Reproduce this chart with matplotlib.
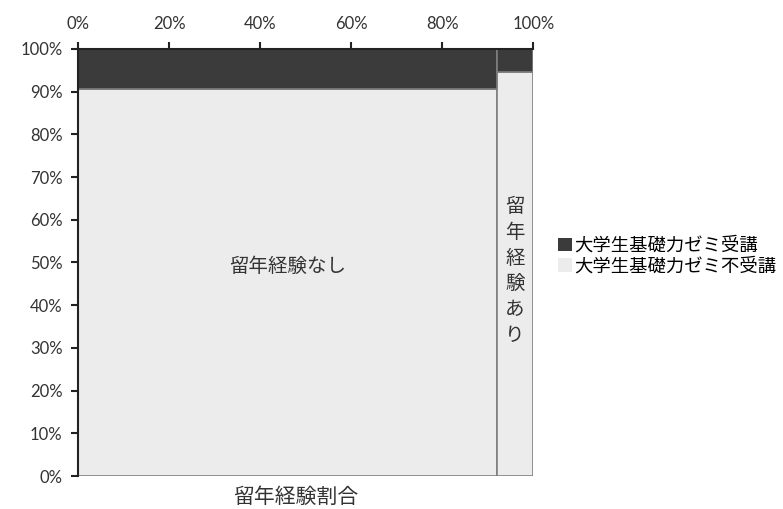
import numpy as np
import matplotlib
matplotlib.use("Agg")
from matplotlib import pyplot as plt
from matplotlib.patches import Patch

plt.rcParams['font.family'] = ['Noto Sans CJK JP', 'DejaVu Sans']

# column groups (width = share of students)
groups = ['留年経験なし', '留年経験あり']
widths = [0.92, 0.08]
# within-column shares
attend = [0.094, 0.054]        # 大学生基礎力ゼミ受講
not_attend = [0.906, 0.946]    # 大学生基礎力ゼミ不受講
series_names = ['大学生基礎力ゼミ受講', '大学生基礎力ゼミ不受講']
ticks = np.arange(0, 1.01, 0.1)
xticks = np.arange(0, 1.01, 0.2)

dark = '#3b3b3b'
light = '#ececec'
edge = '#7f7f7f'
txt = '#333333'

fig = plt.figure(figsize=(7.83, 5.09), dpi=100)
ax = fig.add_axes([0.0996, 0.0648, 0.5815, 0.839])

lefts = np.concatenate([[0], np.cumsum(widths)[:-1]])
ax.bar(lefts, not_attend, width=widths, align='edge', color=light,
       edgecolor=edge, linewidth=1.2)
ax.bar(lefts, attend, width=widths, bottom=not_attend, align='edge',
       color=dark, edgecolor=edge, linewidth=1.2)

# group labels
ax.text(lefts[0] + widths[0] / 2, 0.49, groups[0], ha='center', va='center',
        fontsize=14, color=txt)
ax.text(lefts[1] + widths[1] / 2, 0.48, '\n'.join(groups[1]), ha='center',
        va='center', fontsize=14, color=txt, linespacing=1.3)

ax.set_xlim(0, 1)
ax.set_ylim(0, 1)
ax.set_yticks(ticks)
ax.set_yticklabels([f'{int(round(t * 100))}%' for t in ticks],
                   fontsize=12, color=txt, family='Lato')
ax.xaxis.set_ticks_position('top')
ax.set_xticks(xticks)
ax.set_xticklabels([f'{int(round(t * 100))}%' for t in xticks],
                   fontsize=12, color=txt, family='Lato')
ax.tick_params(axis='both', length=5, width=1.5, color='#222222')
ax.tick_params(axis='x', pad=7)
ax.tick_params(axis='y', pad=6)

for s in ['right', 'bottom']:
    ax.spines[s].set_visible(False)
for s in ['left', 'top']:
    ax.spines[s].set_linewidth(1.5)
    ax.spines[s].set_color('#222222')

fig.text(0.378, 0.002, '留年経験割合', ha='center', va='bottom', fontsize=15,
         color=txt)

handles = [Patch(facecolor=dark, edgecolor='none'),
           Patch(facecolor=light, edgecolor='none')]
fig.legend(handles, series_names, loc='center left',
           bbox_to_anchor=(0.703, 0.497), frameon=False, fontsize=13.2,
           handlelength=0.75, handleheight=0.75, handletextpad=0.15,
           labelspacing=0.15, borderaxespad=0)

fig.savefig('out.png', dpi=100, facecolor='white')
